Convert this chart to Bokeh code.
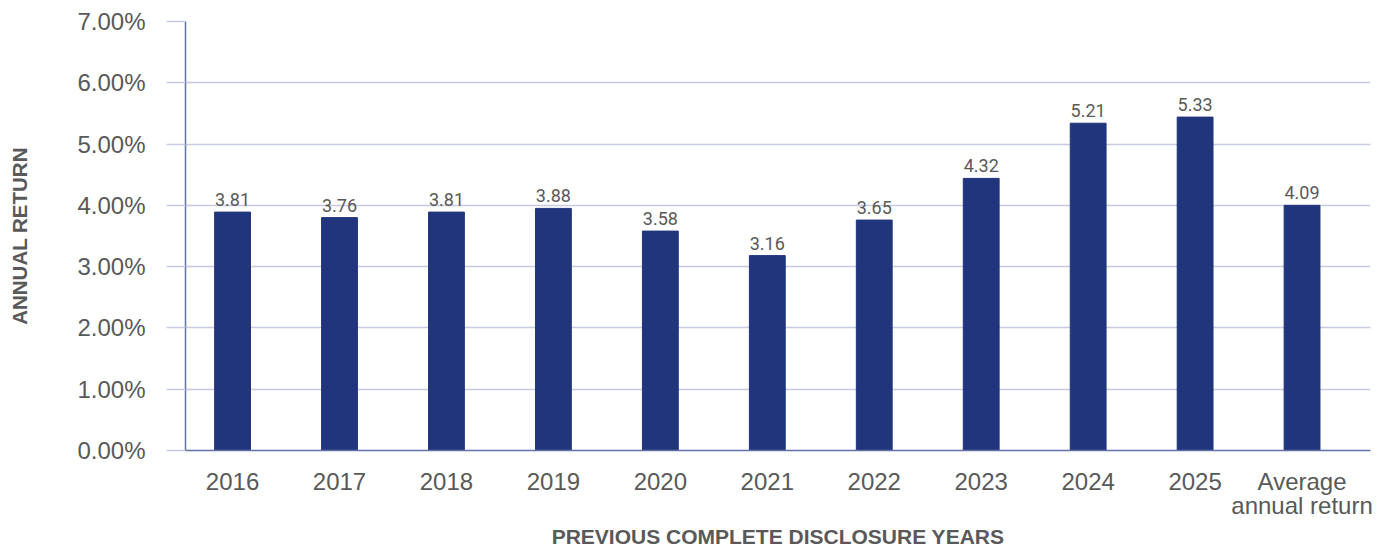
from bokeh.plotting import figure
from bokeh.models import ColumnDataSource, Range1d, FixedTicker, PrintfTickFormatter, LabelSet
from bokeh.core.properties import value
from bokeh.embed import file_html
from bokeh.resources import INLINE

categories = ["2016", "2017", "2018", "2019", "2020", "2021", "2022", "2023", "2024", "2025",
              "Average\nannual return"]
bar_values = [3.89, 3.80, 3.89, 3.95, 3.58, 3.18, 3.76, 4.44, 5.34, 5.44, 4.00]
value_labels = ["3.81", "3.76", "3.81", "3.88", "3.58", "3.16", "3.65", "4.32", "5.21", "5.33", "4.09"]
y_ticks = [0, 1, 2, 3, 4, 5, 6, 7]

BAR = "#21357c"
GRID = "#c6cae2"
AXIS = "#6470a8"
TXT = "#595959"

idx = list(range(len(categories)))
src = ColumnDataSource(dict(x=idx, top=bar_values, lab=value_labels))

p = figure(width=1380, height=550, output_backend="svg", toolbar_location=None,
           x_range=Range1d(-0.44, 10.64), y_range=Range1d(0, 7),
           min_border_left=185, min_border_right=10, min_border_top=21, min_border_bottom=98)
p.outline_line_color = None
p.background_fill_color = "white"

p.vbar(x="x", top="top", width=0.335, source=src, color=BAR)

labels = LabelSet(x="x", y="top", text="lab", source=src, text_align="center",
                  text_baseline="bottom", y_offset=6,
                  text_font=value("Roboto"), text_font_size=value("18px"),
                  text_color=TXT)
p.add_layout(labels)

p.xgrid.grid_line_color = None
p.ygrid.grid_line_color = GRID
p.ygrid.grid_line_width = 1.3
p.ygrid.ticker = FixedTicker(ticks=y_ticks)

p.yaxis.ticker = FixedTicker(ticks=y_ticks)
p.yaxis.formatter = PrintfTickFormatter(format="%.2f%%")
p.yaxis.major_tick_out = 19
p.yaxis.major_tick_in = 0
p.yaxis.major_tick_line_color = GRID
p.yaxis.major_tick_line_width = 1.3
p.yaxis.minor_tick_line_color = None
p.yaxis.axis_line_color = AXIS
p.yaxis.axis_line_width = 1.5
p.yaxis.major_label_standoff = 21
p.yaxis.major_label_text_font = "Liberation Sans"
p.yaxis.major_label_text_font_size = "24px"
p.yaxis.major_label_text_color = TXT
p.yaxis.axis_label = "ANNUAL RETURN"
p.yaxis.axis_label_text_font = "Liberation Sans"
p.yaxis.axis_label_text_font_style = "bold"
p.yaxis.axis_label_text_font_size = "20.5px"
p.yaxis.axis_label_text_color = TXT
p.yaxis.axis_label_standoff = 43

p.xaxis.ticker = FixedTicker(ticks=idx)
p.xaxis.major_label_overrides = {i: c for i, c in zip(idx, categories)}
p.xaxis.major_tick_line_color = None
p.xaxis.minor_tick_line_color = None
p.xaxis.axis_line_color = AXIS
p.xaxis.axis_line_width = 1.5
p.xaxis.major_label_standoff = 11
p.xaxis.major_label_text_font = "Liberation Sans"
p.xaxis.major_label_text_font_size = "24px"
p.xaxis.major_label_text_color = TXT
p.xaxis.major_label_text_line_height = 0.9
p.xaxis.axis_label = "PREVIOUS COMPLETE DISCLOSURE YEARS"
p.xaxis.axis_label_text_font = "Liberation Sans"
p.xaxis.axis_label_text_font_style = "bold"
p.xaxis.axis_label_text_font_size = "21px"
p.xaxis.axis_label_text_color = TXT
p.xaxis.axis_label_standoff = 3

open("out.html", "w").write(file_html(p, INLINE))
